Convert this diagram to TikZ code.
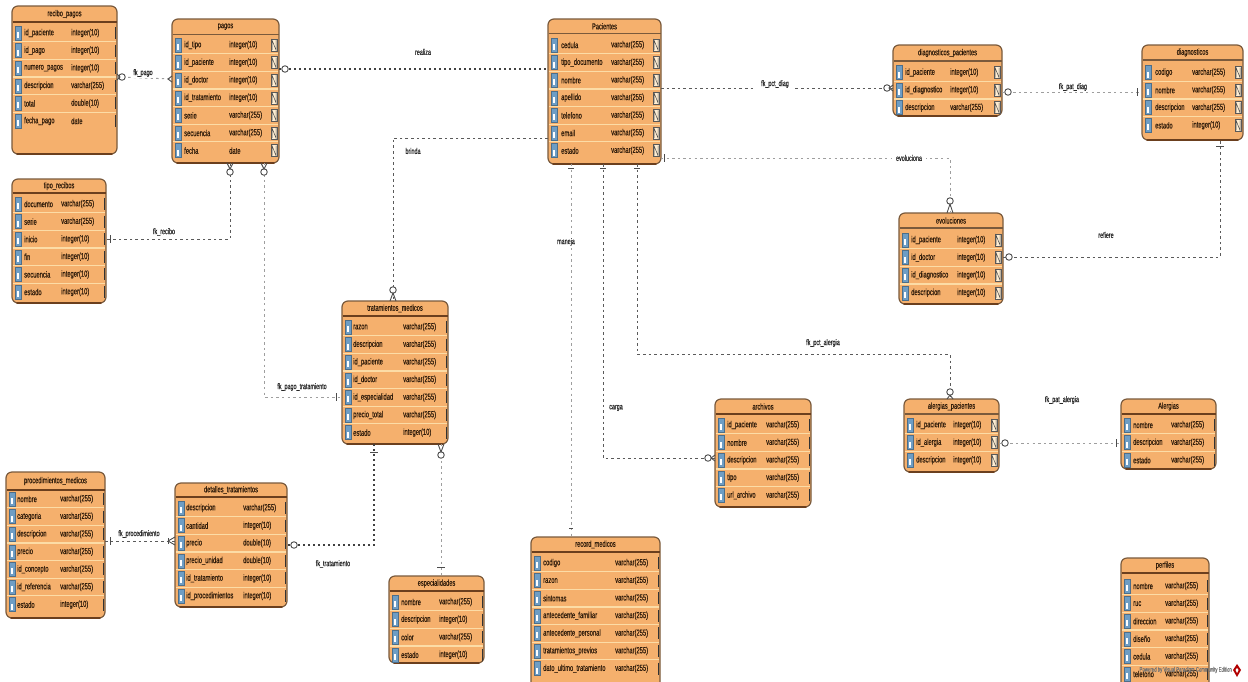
\documentclass[tikz,border=0pt]{standalone}
\usepackage{fontspec}
\setmainfont{Liberation Sans}[FakeStretch=0.66,FakeBold=0.25]
\usetikzlibrary{calc}
\definecolor{tfill}{HTML}{F5B06D}
\definecolor{tedge}{HTML}{7A5A3C}
\definecolor{tdark}{HTML}{6B3F1E}
\definecolor{tsep}{HTML}{FCDCA6}
\definecolor{ttext}{HTML}{2E1B0A}
\definecolor{kfill}{HTML}{6E9DC4}
\definecolor{lineg}{HTML}{5A5A5A}
\tikzset{
  x=1pt,y=-1pt,
  tablebody/.style={rounded corners=6pt,fill=tfill,draw=tedge,line width=1.2pt},
  titletext/.style={font=\fontsize{8.6}{9}\selectfont,text=ttext,inner sep=0pt},
  celltext/.style={font=\fontsize{8.8}{9}\selectfont,text=ttext,inner sep=0pt,anchor=west},
  keybox/.style={fill=kfill,draw=kfill!70!black,line width=.5pt},
  nbox/.style={fill=tsep!50!white,draw=black!65,line width=.6pt},
  fkline/.style={draw=lineg,line width=.95pt,dash pattern=on 2.6pt off 3pt},
  fkdark/.style={draw=black!75,line width=1.3pt,dash pattern=on 2.4pt off 2.6pt},
  fklight/.style={draw=black!38,line width=1pt,dash pattern=on 2.4pt off 3.2pt},
  fklabel/.style={font=\fontsize{8.2}{9}\selectfont,text=black!85,inner sep=1pt},
  zerocirc/.style={circle,draw=black!70,fill=white,line width=.9pt,minimum size=6.5pt,inner sep=0pt},
  onebar/.style={draw=black!70,line width=.9pt}
}
% \tbl{id}{x1}{y1}{x2}{y2}{titlebottom}{title}{firstrow}{namex}{typex}{nshow:1/0}{rows}
\newcommand{\tbl}[1]{\tblA{#1}}
\newcommand{\tblA}[6]{\def\tid{#1}\def\xa{#2}\def\ya{#3}\def\xb{#4}\def\yb{#5}\def\tb{#6}\tblB}
\newcommand{\tblB}[6]{%
  \begin{scope}
  \path[tablebody] (\xa,\ya) rectangle (\xb,\yb);
  \draw[tdark,line width=1.6pt,line cap=round] (\xa+5,\yb-.3) -- (\xb-5,\yb-.3);
  \ifnum#5=1 \draw[tedge,line width=1.1pt] (\xa+.5,\tb) -- (\xb-.5,\tb);
  \else \draw[tdark,line width=1.5pt] (\xa+.5,\tb) -- (\xb-.5,\tb);\fi
  \node[titletext] (\tid) at ({(\xa+\xb)/2},{(\ya+\tb)/2}) {#1};
  \foreach \nm/\ty [count=\i from 0] in {#6}{
    \pgfmathsetmacro{\ry}{#2+17.6*\i}
    \ifnum\i>0 \draw[tsep,line width=1.3pt] (\xa+1,\ry-8.8) -- (\xb-1,\ry-8.8);\fi
    \draw[keybox] (\xa+3.5,\ry-7) rectangle (\xa+9,\ry+7);
    \fill[white] (\xa+5.3,\ry-1) rectangle (\xa+7.2,\ry+5);
    \node[celltext] at (#3,\ry) {\nm};
    \node[celltext] at (#4,\ry) {\ty};
    \ifnum#5=1 \draw[nbox] (\xb-8,\ry-6) rectangle (\xb-2,\ry+6);
      \draw[black!70,line width=.5pt] (\xb-7,\ry+5) -- (\xb-7,\ry-5) -- (\xb-3,\ry+5) -- (\xb-3,\ry-5);
    \else \draw[black!80,line width=1.1pt] (\xb-1.2,\ry-6) -- (\xb-1.2,\ry+6);\fi
  }
  \end{scope}}
\begin{document}
\begin{tikzpicture}
\useasboundingbox[fill=white] (0,0) rectangle (1248,681);

% tables
\tbl{recibo}{12}{6}{117}{154}{22}{recibo\_pagos}{33}{24}{71}{0}{id\_paciente/integer(10),id\_pago/integer(10),numero\_pagos/integer(10),descripcion/varchar(255),total/double(10),fecha\_pago/date}
\tbl{pagos}{172}{19}{279}{163}{34.5}{pagos}{45}{184}{229}{1}{id\_tipo/integer(10),id\_paciente/integer(10),id\_doctor/integer(10),id\_tratamiento/integer(10),serie/varchar(255),secuencia/varchar(255),fecha/date}
\tbl{tipo}{12}{179}{106}{303}{193}{tipo\_recibos}{204}{24}{61}{0}{documento/varchar(255),serie/varchar(255),inicio/integer(10),fin/integer(10),secuencia/integer(10),estado/integer(10)}
\tbl{trat}{342}{301}{448}{444}{316}{tratamientos\_medicos}{327}{353}{403}{0}{razon/varchar(255),descripcion/varchar(255),id\_paciente/varchar(255),id\_doctor/varchar(255),id\_especialidad/varchar(255),precio\_total/varchar(255),estado/integer(10)}
\tbl{proc}{6}{472}{105}{618}{490}{procedimientos\_medicos}{499}{17}{60}{0}{nombre/varchar(255),categoria/varchar(255),descripcion/varchar(255),precio/varchar(255),id\_concepto/varchar(255),id\_referencia/varchar(255),estado/integer(10)}
\tbl{deta}{175}{483}{287}{607}{497}{detalles\_tratamientos}{508}{186}{243}{0}{descripcion/varchar(255),cantidad/integer(10),precio/double(10),precio\_unidad/double(10),id\_tratamiento/integer(10),id\_procedimientos/integer(10)}
\tbl{espe}{389}{576}{484}{663}{591}{especialidades}{602}{401}{439}{0}{nombre/varchar(255),descripcion/integer(10),color/varchar(255),estado/integer(10)}
\tbl{paci}{548}{19}{661}{164}{33.5}{Pacientes}{45}{561}{611}{1}{cedula/varchar(255),tipo\_documento/varchar(255),nombre/varchar(255),apellido/varchar(255),telefono/varchar(255),email/varchar(255),estado/varchar(255)}
\tbl{dipa}{893}{45}{1002}{116}{61}{diagnosticos\_pacientes}{72.5}{905}{950}{1}{id\_paciente/integer(10),id\_diagnostico/integer(10),descripcion/varchar(255)}
\tbl{diag}{1142}{45}{1243}{140}{60}{diagnosticos}{72.5}{1155}{1192}{1}{codigo/varchar(255),nombre/varchar(255),descripcion/varchar(255),estado/integer(10)}
\tbl{evol}{899}{213}{1003}{304}{228}{evoluciones}{240}{911}{957}{1}{id\_paciente/integer(10),id\_doctor/integer(10),id\_diagnostico/integer(10),descripcion/integer(10)}
\tbl{alpa}{904}{399}{999}{472}{414}{alergias\_pacientes}{425}{916}{953}{1}{id\_paciente/integer(10),id\_alergia/integer(10),descripcion/integer(10)}
\tbl{aler}{1121}{399}{1216}{469}{414}{Alergias}{425}{1133}{1171}{0}{nombre/varchar(255),descripcion/varchar(255),estado/varchar(255)}
\tbl{perf}{1121}{558}{1209}{690}{573}{perfiles}{586}{1133}{1165}{0}{nombre/varchar(255),ruc/varchar(255),direccion/varchar(255),diseño/varchar(255),cedula/varchar(255),telefono/varchar(255)}
\tbl{arch}{715}{399}{811}{507}{414}{archivos}{425}{727}{766}{0}{id\_paciente/varchar(255),nombre/varchar(255),descripcion/varchar(255),tipo/varchar(255),url\_archivo/varchar(255)}
\tbl{reco}{531}{537}{660}{690}{552}{record\_medicos}{563}{543}{615}{0}{codigo/varchar(255),razon/varchar(255),sintomas/varchar(255),antecedente\_familiar/varchar(255),antecedente\_personal/varchar(255),tratamientos\_previos/varchar(255),dato\_ultimo\_tratamiento/varchar(255)}

% connector anchor coordinates
\coordinate (rp) at (117,77);  \coordinate (pr) at (172,79);
\coordinate (pp) at (279,69);  \coordinate (cp) at (548,69);
\coordinate (cb) at (548,138); \coordinate (tb) at (393,301);
\coordinate (pt) at (230,163); \coordinate (tp) at (106,239);
\coordinate (pq) at (264,163); \coordinate (tq) at (342,397);
\coordinate (ts) at (374,444); \coordinate (ds) at (287,545);
\coordinate (te) at (441,444); \coordinate (et) at (441,576);
\coordinate (pd) at (105,541); \coordinate (dp) at (175,541);
\coordinate (cd) at (661,88);  \coordinate (dc) at (893,88);
\coordinate (dd) at (1002,92); \coordinate (gd) at (1142,92);
\coordinate (ce) at (661,158); \coordinate (ec) at (950,213);
\coordinate (er) at (1003,257);\coordinate (gr) at (1220,140);
\coordinate (cm) at (571,164); \coordinate (mc) at (571,537);
\coordinate (ca) at (603,164); \coordinate (ac) at (715,458);
\coordinate (cl) at (637,164); \coordinate (lc) at (950,399);
\coordinate (ll) at (999,443); \coordinate (al) at (1121,443);

% connectors
\draw[fklight] (rp) -- (pr);
\draw[fkdark] (pp) -- (cp);
\draw[fkline] (cb) -| (tb);
\draw[fkline] (pt) |- (tp);
\draw[fklight] (pq) |- (tq);
\draw[fkdark] (ts) |- (ds);
\draw[fklight] (te) -- (et);
\draw[fkline] (pd) -- (dp);
\draw[fkline] (cd) -- (dc);
\draw[fklight] (dd) -- (gd);
\draw[fklight] (ce) -| (ec);
\draw[fkline] (er) -| (gr);
\draw[fklight] (cm) -- (mc);
\draw[fkline] (ca) |- (ac);
\draw[fkline] (cl) -- ++(0,190) -| (lc);
\draw[fklight] (ll) -- (al);

% connector labels
\node[fklabel,fill=white] (l1) at (143,73) {fk\_pago};
\node[fklabel] (l2) at (423,52) {realiza};
\node[fklabel] (l3) at (413,151) {brinda};
\node[fklabel] (l4) at (164,232) {fk\_recibo};
\node[fklabel] (l5) at (302,387) {fk\_pago\_tratamiento};
\node[fklabel] (l6) at (333,564) {fk\_tratamiento};
\node[fklabel] (l7) at (139,534) {fk\_procedimiento};
\node[fklabel,fill=white,inner xsep=6pt] (l8) at (775,84) {fk\_pct\_diag};
\node[fklabel,fill=white,inner xsep=6pt] (l9) at (1073,87) {fk\_pat\_diag};
\node[fklabel,fill=white,inner xsep=4pt] (l10) at (909,158) {evoluciona};
\node[fklabel] (l11) at (1106,235) {refiere};
\node[fklabel,fill=white] (l12) at (566,242) {maneja};
\node[fklabel] (l13) at (616,408) {carga};
\node[fklabel] (l14) at (823,343) {fk\_pct\_alergia};
\node[fklabel] (l15) at (1062,400) {fk\_pat\_alergia};

% ends: zero circles
\node[zerocirc] (z1) at (122,77) {};
\node[zerocirc] (z2) at (285,69) {};
\node[zerocirc] (z3) at (393,290) {};
\node[zerocirc] (z4) at (230,172) {};
\node[zerocirc] (z5) at (264,172) {};
\node[zerocirc] (z6) at (294,545) {};
\node[zerocirc] (z7) at (441,455) {};
\node[zerocirc] (z8) at (887,88) {};
\node[zerocirc] (z9) at (1008,92) {};
\node[zerocirc] (z10) at (950,201) {};
\node[zerocirc] (z11) at (1009,257) {};
\node[zerocirc] (z12) at (950,392) {};
\node[zerocirc] (z13) at (1005,443) {};
\node[zerocirc] (z14) at (708,458) {};
\draw[onebar] (168,541) -- (175,537);
\draw[onebar] (168,541) -- (175,545);
\draw[onebar] (168,538) -- (168,544);
% crow feet
\draw[onebar] (893,85) -- (889,88) -- (893,91);
\draw[onebar] (715,455) -- (711,458) -- (715,461);
\draw[onebar] (172,76) -- (168,79) -- (172,82);
\draw[onebar] (117,74) -- (120,77) -- (117,80);
\draw[onebar] (947,399) -- (950,395) -- (953,399);
\draw[onebar] (947,213) -- (950,204) -- (953,213);
\draw[onebar] (390,301) -- (393,293) -- (396,301);
\draw[onebar] (227,163) -- (230,169) -- (233,163);
\draw[onebar] (261,163) -- (264,169) -- (267,163);
\draw[onebar] (438,444) -- (441,452) -- (444,444);
% one bars
\draw[onebar] (110,235) -- (110,243);
\draw[onebar] (336,393) -- (336,401);
\draw[onebar] (370,452) -- (378,452);
\draw[onebar] (437,567) -- (445,567);
\draw[onebar] (110,537) -- (110,545);
\draw[onebar] (1137,88) -- (1137,96);
\draw[onebar] (1216,146) -- (1224,146);
\draw[onebar] (664,154) -- (664,162);
\draw[onebar] (568,168) -- (574,168);
\draw[onebar] (600,168) -- (606,168);
\draw[onebar] (634,168) -- (640,168);
\draw[onebar] (569,528) -- (573,528);
\draw[onebar] (1116,439) -- (1116,447);

% watermark
\node[font=\fontsize{6.5}{7}\selectfont,text=black!55,inner sep=0pt,anchor=east] (wm) at (1232,670) {Powered by Visual Paradigm Community Edition};
\fill[red!70!black] (1237,664) -- (1241,670) -- (1237,677) -- (1233,670) -- cycle;
\fill[white] (1237,668) -- (1238.5,670) -- (1237,673) -- (1235.5,670) -- cycle;
\end{tikzpicture}
\end{document}
